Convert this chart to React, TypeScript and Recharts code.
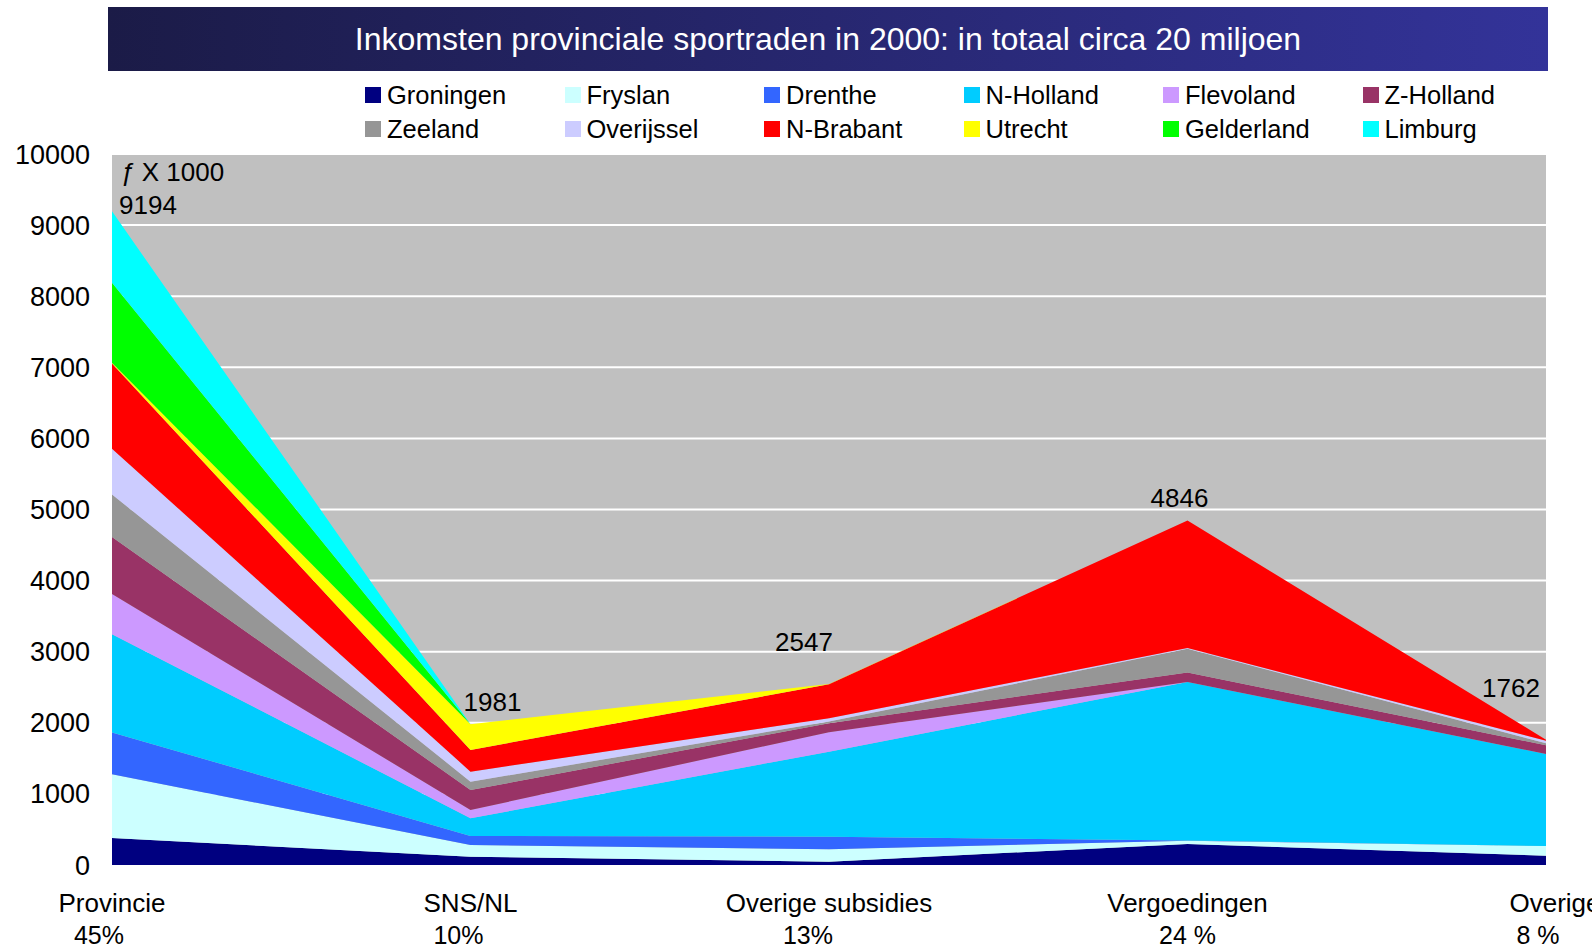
import { AreaChart, Area, XAxis, YAxis, CartesianGrid, LabelList } from 'recharts';

const categories = ['Provincie', 'SNS/NL', 'Overige subsidies', 'Vergoedingen', 'Overige'];
const shares = ['45%', '10%', '13%', '24 %', '8 %'];
const totals = [9194, 1981, 2547, 4846, 1762];
const yTicks = [0, 1000, 2000, 3000, 4000, 5000, 6000, 7000, 8000, 9000, 10000];

// f x 1000 per province, bottom of the stack first
const groningen = [380, 117, 47, 295, 130];
const fryslan = [895, 164, 174, 45, 137];
const drenthe = [590, 127, 177, 5, 0];
const nHolland = [1382, 249, 1196, 2230, 1295];
const flevoland = [564, 117, 273, 0, 0];
const zHolland = [802, 281, 127, 131, 122];
const zeeland = [598, 117, 23, 335, 28];
const overijssel = [643, 141, 47, 10, 37];
const nBrabant = [1200, 305, 478, 1795, 13];
const utrecht = [10, 363, 5, 0, 0];
const gelderland = [1126, 0, 0, 0, 0];
const limburg = [1004, 0, 0, 0, 0];

const series = [
  { key: 'groningen', name: 'Groningen', color: '#000080', values: groningen },
  { key: 'fryslan', name: 'Fryslan', color: '#ccffff', values: fryslan },
  { key: 'drenthe', name: 'Drenthe', color: '#3366ff', values: drenthe },
  { key: 'nHolland', name: 'N-Holland', color: '#00ccff', values: nHolland },
  { key: 'flevoland', name: 'Flevoland', color: '#cc99ff', values: flevoland },
  { key: 'zHolland', name: 'Z-Holland', color: '#993366', values: zHolland },
  { key: 'zeeland', name: 'Zeeland', color: '#969696', values: zeeland },
  { key: 'overijssel', name: 'Overijssel', color: '#ccccff', values: overijssel },
  { key: 'nBrabant', name: 'N-Brabant', color: '#ff0000', values: nBrabant },
  { key: 'utrecht', name: 'Utrecht', color: '#ffff00', values: utrecht },
  { key: 'gelderland', name: 'Gelderland', color: '#00ff00', values: gelderland },
  { key: 'limburg', name: 'Limburg', color: '#00ffff', values: limburg },
];

const data = categories.map((name, i) => {
  const row: Record<string, string | number> = { name };
  series.forEach((s) => {
    row[s.key] = s.values[i];
  });
  return row;
});

// label offsets relative to top of the stack / tick position
const totalOffsets = [
  [36, -6],
  [22, -22],
  [-25, -42],
  [-8, -22],
  [-35, -52],
];
const nameOffsets = [0, 0, 0, 0, 9];
const shareOffsets = [-13, -12, -21, 0, -8];

const FONT = '"Liberation Sans", Arial, sans-serif';

const XTick = (props: any) => {
  const { x, y, payload, index } = props;
  return (
    <g>
      <text
        x={x + nameOffsets[index]}
        y={y + 38}
        textAnchor='middle'
        dominantBaseline='central'
        fontSize={26}
        fill='#000'
        fontFamily={FONT}
      >
        {payload.value}
      </text>
      <text
        x={x + shareOffsets[index]}
        y={y + 70}
        textAnchor='middle'
        dominantBaseline='central'
        fontSize={25}
        fill='#000'
        fontFamily={FONT}
      >
        {shares[index]}
      </text>
    </g>
  );
};

const renderTotal = (props: any) => {
  const { x, y, index } = props;
  const [dx, dy] = totalOffsets[index];
  return (
    <text
      x={x + dx}
      y={y + dy}
      textAnchor='middle'
      dominantBaseline='central'
      fontSize={26}
      fill='#000'
      fontFamily={FONT}
    >
      {totals[index]}
    </text>
  );
};

const App = () => {
  return (
    <div
      style={{
        position: 'absolute',
        left: 0,
        top: 0,
        width: 1592,
        height: 950,
        overflow: 'hidden',
        background: '#fff',
        fontFamily: FONT,
      }}
    >
      <div
        style={{
          position: 'absolute',
          left: 108,
          top: 7,
          width: 1440,
          height: 64,
          background: 'linear-gradient(to right, #1b1b47, #333399)',
          color: '#fff',
          fontSize: 32,
          lineHeight: '64px',
          textAlign: 'center',
        }}
      >
        Inkomsten provinciale sportraden in 2000: in totaal circa 20 miljoen
      </div>
      <div
        style={{
          position: 'absolute',
          left: 365,
          top: 80,
          width: 1200,
          display: 'grid',
          gridTemplateColumns: 'repeat(6, 199.5px)',
          rowGap: 4,
        }}
      >
        {series.map((s) => (
          <div key={s.key} style={{ display: 'flex', alignItems: 'center', height: 30, fontSize: 25.5, color: '#000' }}>
            <span style={{ width: 16, height: 16, background: s.color, marginRight: 6, display: 'inline-block' }} />
            {s.name}
          </div>
        ))}
      </div>
      <AreaChart width={1592} height={950} data={data} margin={{ top: 154, right: 46, left: 0, bottom: 0 }}>
        <CartesianGrid vertical={false} stroke='#ffffff' strokeWidth={2} fill='#c0c0c0' fillOpacity={1} />
        <XAxis
          dataKey='name'
          height={85}
          axisLine={false}
          tickLine={false}
          tickSize={0}
          tickMargin={0}
          interval={0}
          tick={<XTick />}
        />
        <YAxis
          width={112}
          domain={[0, 10000]}
          ticks={yTicks}
          axisLine={false}
          tickLine={false}
          tickSize={0}
          tickMargin={22}
          tick={{ fontSize: 27, fill: '#000', fontFamily: FONT }}
        />
        {series.map((s, i) => (
          <Area
            key={s.key}
            type='linear'
            dataKey={s.key}
            name={s.name}
            stackId='1'
            stroke='none'
            fill={s.color}
            fillOpacity={1}
            dot={false}
            activeDot={false}
            isAnimationActive={false}
          >
            {i === series.length - 1 && <LabelList content={renderTotal} />}
          </Area>
        ))}
      </AreaChart>
      <div style={{ position: 'absolute', left: 120, top: 157, fontSize: 26, color: '#000' }}>
        <i>ƒ</i> X 1000
      </div>
    </div>
  );
};

export default App;
